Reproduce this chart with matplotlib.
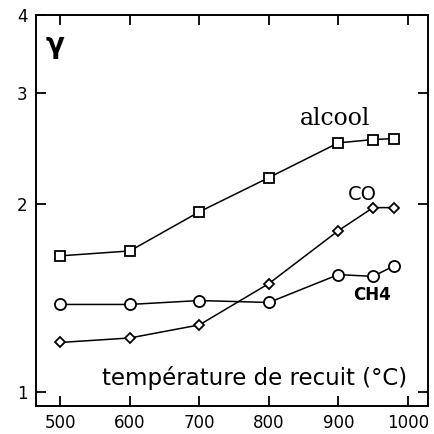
import numpy as np
import matplotlib
matplotlib.use("Agg")
import matplotlib.pyplot as plt

# annealing temperature (°C) and gamma for each gas
temp = [500, 600, 700, 800, 900, 950, 980]
alcool = [1.65, 1.68, 1.94, 2.20, 2.50, 2.53, 2.54]
co = [1.20, 1.22, 1.28, 1.49, 1.81, 1.97, 1.97]
ch4 = [1.38, 1.38, 1.40, 1.39, 1.54, 1.53, 1.59]

xticks = [500, 600, 700, 800, 900, 1000]
yticks = [1, 2, 3, 4]

fig = plt.figure(figsize=(4.35, 4.34), dpi=100)
ax = fig.add_axes([36 / 435, 28 / 434, 392 / 435, 391 / 434])

ax.plot(temp, alcool, color='black', lw=1.1, marker='s', ms=7,
        mfc='white', mec='black', mew=1.3)
ax.plot(temp, co, color='black', lw=1.1, marker='D', ms=5,
        mfc='white', mec='black', mew=1.3)
ax.plot(temp, ch4, color='black', lw=1.1, marker='o', ms=8,
        mfc='white', mec='black', mew=1.3)

ax.set_yscale('log')
ax.set_xlim(465, 1029)
ax.set_ylim(0.95, 4.0)
ax.set_xticks(xticks)
ax.set_yticks(yticks)
ax.set_yticklabels([str(v) for v in yticks])
ax.yaxis.set_minor_locator(matplotlib.ticker.NullLocator())
ax.tick_params(direction='in', length=7, width=1.3, top=True, right=True,
               labelsize=12, pad=6)
for s in ax.spines.values():
    s.set_linewidth(1.4)

ax.text(0.025, 0.96, 'γ', transform=ax.transAxes, fontsize=20,
        fontweight='bold', va='top', ha='left')
ax.text(895, 2.62, 'alcool', fontsize=17, family='DejaVu Serif',
        ha='center', va='bottom')
ax.text(935, 2.0, 'CO', fontsize=14, ha='center', va='bottom')
ax.text(948, 1.43, 'CH4', fontsize=12, fontweight='bold', ha='center', va='center')
ax.text(779, 1.053, 'température de recuit (°C)', fontsize=16.5,
        ha='center', va='center')

fig.savefig('out.png', dpi=100)
